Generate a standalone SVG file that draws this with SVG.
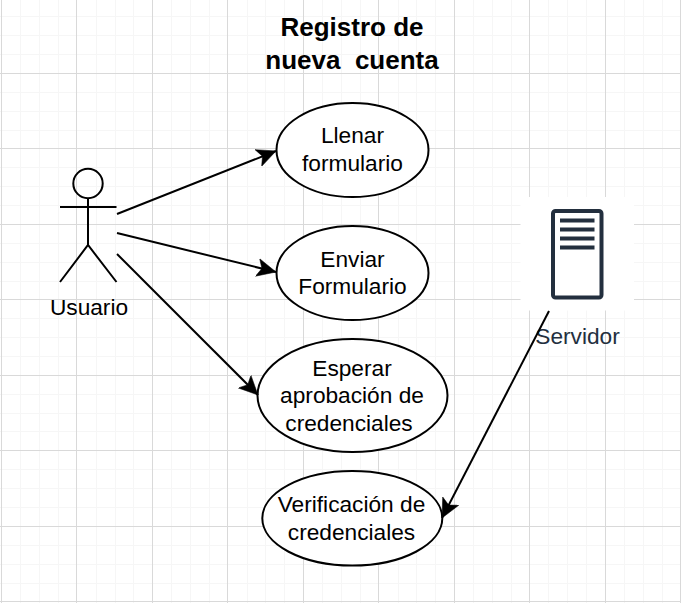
<svg xmlns="http://www.w3.org/2000/svg" width="681" height="603" viewBox="0 0 681 603">
<style>
text{font-family:"Liberation Sans",Arial,sans-serif;font-size:22.7px;fill:#000;text-anchor:middle}
.title{font-weight:bold;font-size:26px}
.shape{fill:#fff;stroke:#000;stroke-width:2}
.line{fill:none;stroke:#000;stroke-width:2}
.minor{fill:none;stroke:#f6f6f6;stroke-width:1}
.major{fill:none;stroke:#d9d9d9;stroke-width:1}
</style>
<defs>
<marker id="arrow" markerUnits="userSpaceOnUse" markerWidth="22" markerHeight="20" refX="19" refY="9" orient="auto" viewBox="0 0 22 18">
<path d="M0 0 L19 9 L0 18 L4.500 9 Z" fill="#000" stroke="#000" stroke-width="0.500"/>
</marker>
</defs>
<rect width="681" height="603" fill="#fff"/>
<g id="grid">
<path class="minor" shape-rendering="crispEdges" d="M20.500 0V603M39.500 0V603M58.500 0V603M96.500 0V603M115.500 0V603M133.500 0V603M171.500 0V603M190.500 0V603M209.500 0V603M247.500 0V603M265.500 0V603M284.500 0V603M322.500 0V603M341.500 0V603M360.500 0V603M398.500 0V603M416.500 0V603M435.500 0V603M473.500 0V603M492.500 0V603M511.500 0V603M548.500 0V603M567.500 0V603M586.500 0V603M624.500 0V603M643.500 0V603M662.500 0V603M0 16.500H681M0 35.500H681M0 54.500H681M0 92.500H681M0 111.500H681M0 130.500H681M0 167.500H681M0 186.500H681M0 205.500H681M0 243.500H681M0 262.500H681M0 281.500H681M0 318.500H681M0 337.500H681M0 356.500H681M0 394.500H681M0 413.500H681M0 431.500H681M0 469.500H681M0 488.500H681M0 507.500H681M0 545.500H681M0 564.500H681M0 583.500H681"/>
<path class="major" shape-rendering="crispEdges" d="M1.500 0V603M76.500 0V603M152.500 0V603M227.500 0V603M303.500 0V603M378.500 0V603M454.500 0V603M529.500 0V603M605.500 0V603M680.500 0V603M0 73.500H681M0 148.500H681M0 224.500H681M0 299.500H681M0 375.500H681M0 450.500H681M0 526.500H681M0 601.500H681"/>
</g>
<g id="title">
<text class="title" x="352" y="36">Registro de</text>
<text class="title" x="352" y="69" xml:space="preserve">nueva  cuenta</text>
</g>
<g id="actor-usuario">
<circle class="line" cx="88" cy="183.500" r="14.700"/>
<path class="line" d="M88 198V245M60 207H116.500M60 282L88 245L116.500 282"/>
<text x="89" y="314.500">Usuario</text>
</g>
<g id="node-llenar">
<ellipse class="shape" cx="352.500" cy="150" rx="76" ry="47"/>
<text x="352.500" y="143">Llenar</text>
<text x="352.500" y="170.500">formulario</text>
</g>
<g id="node-enviar">
<ellipse class="shape" cx="352.500" cy="273" rx="76" ry="47"/>
<text x="352.500" y="266.500">Enviar</text>
<text x="352.500" y="294">Formulario</text>
</g>
<g id="node-esperar">
<ellipse class="shape" cx="352.500" cy="395.500" rx="95" ry="56.500"/>
<text x="352" y="375.500">Esperar</text>
<text x="352" y="403">aprobación de</text>
<text x="349" y="430.500">credenciales</text>
</g>
<g id="node-verificacion">
<ellipse class="shape" cx="352.300" cy="518.300" rx="90" ry="47.300"/>
<text x="351.500" y="512">Verificación de</text>
<text x="351.500" y="539.500">credenciales</text>
</g>
<g id="node-servidor">
<rect x="520.500" y="197" width="113.500" height="113.500" fill="#fff"/>
<rect x="553" y="211" width="48.500" height="86.500" rx="2.500" fill="#fff" stroke="#232f3e" stroke-width="4"/>
<path fill="#232f3e" d="M560 218.500h34.500v4H560zM560 227.500h34.500v4H560zM560 236.500h34.500v4H560zM560 245.500h34.500v4H560z"/>
<text x="577.500" y="343.500" style="fill:#232f3e">Servidor</text>
</g>
<g id="connectors">
<path class="line" marker-end="url(#arrow)" d="M117 214L276 151"/>
<path class="line" marker-end="url(#arrow)" d="M117 233L276 272"/>
<path class="line" marker-end="url(#arrow)" d="M117 254L258 395"/>
<path class="line" marker-end="url(#arrow)" d="M549 311L442 518"/>
</g>
</svg>
